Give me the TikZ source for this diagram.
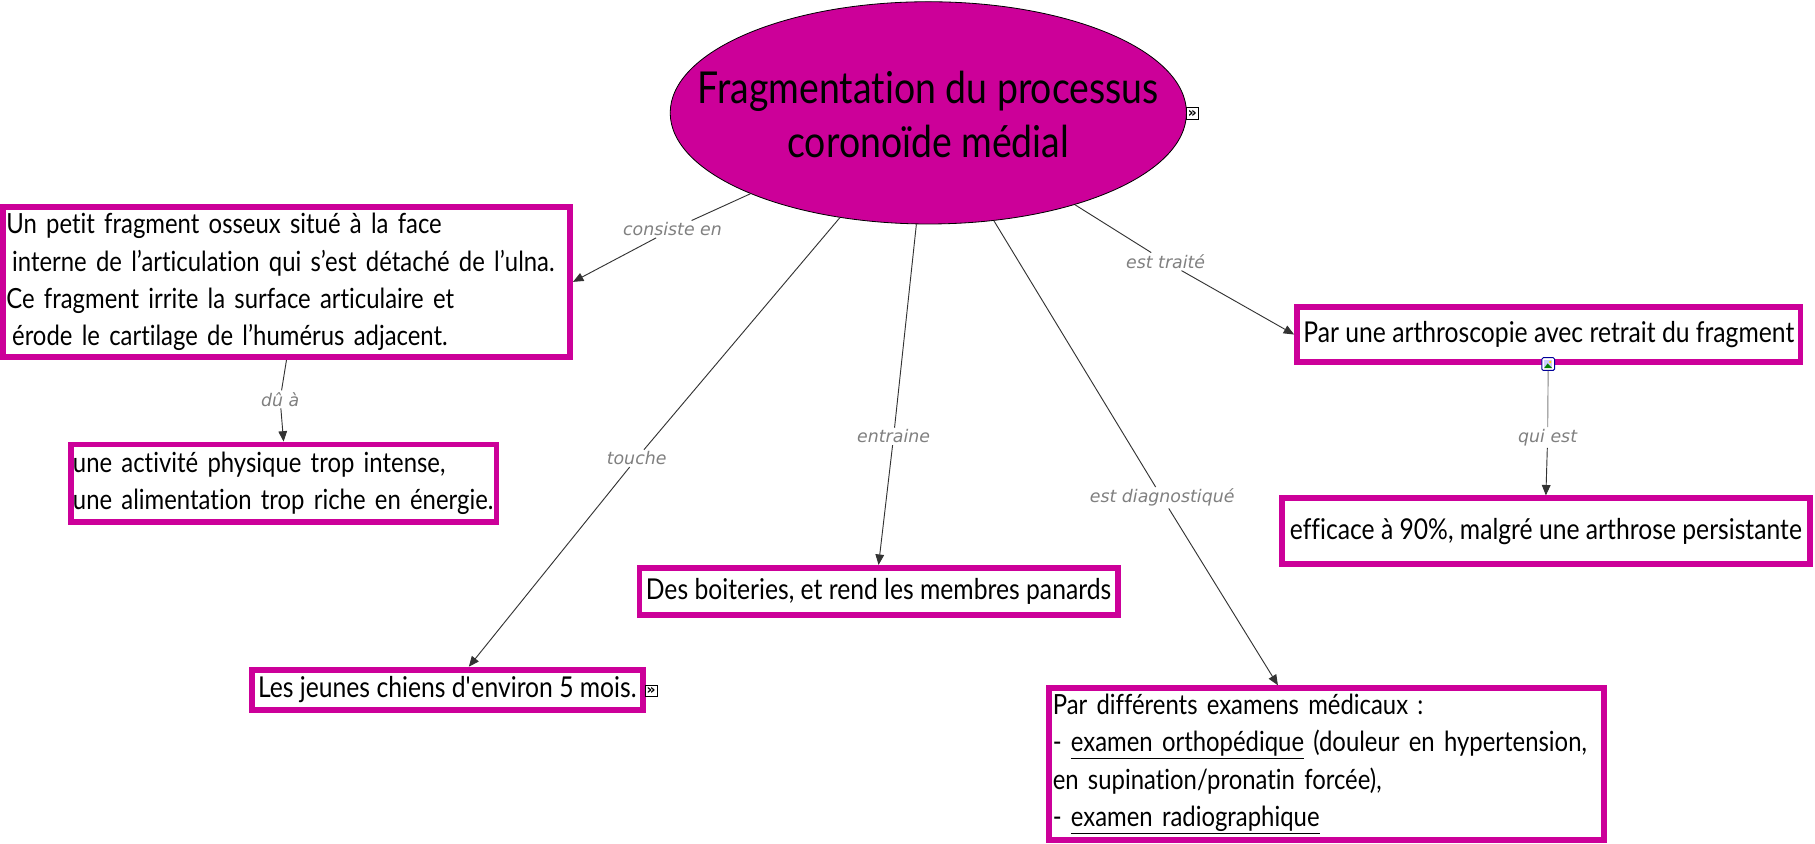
\documentclass[tikz,border=0pt]{standalone}
\usepackage{fontspec}
\setmainfont{Lato}[FakeStretch=0.86,Ligatures={NoCommon}]
\newfontfamily\titlefont{Lato}[FakeStretch=0.85,Ligatures={NoCommon}]
\newfontfamily\labfont{DejaVu Sans}
\newfontfamily\symfont{DejaVu Sans}
\usetikzlibrary{arrows.meta,shapes.geometric,calc}
\definecolor{mag}{RGB}{204,0,153}
\definecolor{lnk}{RGB}{51,51,51}
\definecolor{labgray}{RGB}{128,128,128}
\begin{document}
\begin{tikzpicture}[x=1pt,y=-1pt,
  box/.style={draw=mag, line width=5pt, fill=white, inner xsep=3pt, inner ysep=0pt,
    font=\fontsize{24}{32}\selectfont},
  onebox/.style={box, font=\fontsize{24.8}{32}\selectfont},
  lab/.style={fill=white, inner sep=1.5pt, text=labgray,
    font=\labfont\itshape\fontsize{15}{17}\selectfont},
  conn/.style={draw=lnk, line width=0.8pt},
  arr/.style={conn, -{Triangle[length=9pt,width=7.5pt]}},
  more/.style={draw=black, fill=white, line width=0.6pt, minimum size=10pt, inner sep=0pt,
    font=\symfont\bfseries\fontsize{12}{10}\selectfont}]
\useasboundingbox (0,0) rectangle (1568,729);
\fill[white] (0,0) rectangle (1568,729);

% central concept
\node[ellipse, fill=mag, draw=black, line width=0.7pt, minimum width=446pt,
  minimum height=192pt, inner sep=0pt] (T) at (802,97.5) {};
\node[font=\titlefont\fontsize{38}{47}\selectfont, align=center, inner sep=0pt]
  (Tt) at (802,99) {Fragmentation du processus\\coronoïde médial};
\node[more] (iT) at (1030,98) {»};

% concept boxes
\node[box, minimum width=490pt, minimum height=130pt, text width=484pt, align=left]
  (A) at (247.5,243.5) {Un petit fragment osseux situé à la face\\
  \hspace*{5pt}interne de l’articulation qui s’est détaché de l’ulna.\\
  Ce fragment irrite la surface articulaire et\\
  \hspace*{5pt}érode le cartilage de l’humérus adjacent.};
\node[box, inner xsep=2pt, minimum width=368pt, minimum height=67pt, text width=364pt, align=left]
  (B) at (245,417.5) {une activité physique trop intense,\\une alimentation trop riche en énergie.};
\node[onebox, minimum width=338pt, minimum height=35pt] (C) at (386.5,596) {Les jeunes chiens d\textquotesingle environ 5 mois.};
\node[more] (iC) at (562.5,597) {»};
\node[onebox, minimum width=413pt, minimum height=41pt] (D) at (759,511) {Des boiteries, et rend les membres panards};
\node[box, minimum width=479pt, minimum height=131pt, text width=473pt, align=left]
  (E) at (1146,660) {Par différents examens médicaux :\\
  - \underline{examen orthopédique} (douleur en hypertension,\\
  en supination/pronatin forcée),\\
  - \underline{examen radiographique}};
\node[onebox, minimum width=435pt, minimum height=47pt] (F) at (1338,289) {Par une arthroscopie avec retrait du fragment};
\node[onebox, minimum width=456pt, minimum height=57pt] (G) at (1335.5,459) {efficace à 90\%, malgré une arthrose persistante};

% image icon
\node[draw=blue!60!black, fill=white, rounded corners=1.2pt, line width=0.8pt,
  minimum size=11pt, inner sep=0pt] (img) at (1337.5,314.5) {};
\fill[blue!20] ($(img.center)+(-3.5,-3.5)$) rectangle ($(img.center)+(3.5,3.5)$);
\fill[green!50!black] ($(img.center)+(-3.5,3.5)$) -- ($(img.center)+(-0.5,-0.5)$) -- ($(img.center)+(3.5,3.5)$) -- cycle;
\fill[yellow!80!orange] ($(img.center)+(1.8,-1.8)$) circle (1.2pt);

% linking phrases
\node[lab] (l1) at (581,198) {consiste en};
\node[lab] (l2) at (550,396) {touche};
\node[lab] (l3) at (772,377) {entraine};
\node[lab] (l4) at (1004,430) {est diagnostiqué};
\node[lab] (l5) at (1007,226) {est traité};
\node[lab] (l6) at (242,345) {dû à};
\node[lab] (l7) at (1337,378) {qui est};

% connectors
\draw[conn] (T) -- (l1);
\draw[arr] (l1) -- (A.east);
\draw[conn] (T) -- (l2);
\draw[arr] (l2) -- ($(C.north)+(18.5,0)$);
\draw[conn] (T) -- (l3);
\draw[arr] (l3) -- (D.north);
\draw[conn] (T) -- (l4);
\draw[arr] (l4) -- ($(E.north)+(-42,0)$);
\draw[conn] (T) -- (l5);
\draw[arr] (l5) -- (F.west);
\draw[conn] (A.south) -- (l6);
\draw[arr] (l6) -- (B.north);
\draw[conn, draw=gray] (img) -- (l7);
\draw[arr] (l7) -- (G.north);
\end{tikzpicture}
\end{document}
